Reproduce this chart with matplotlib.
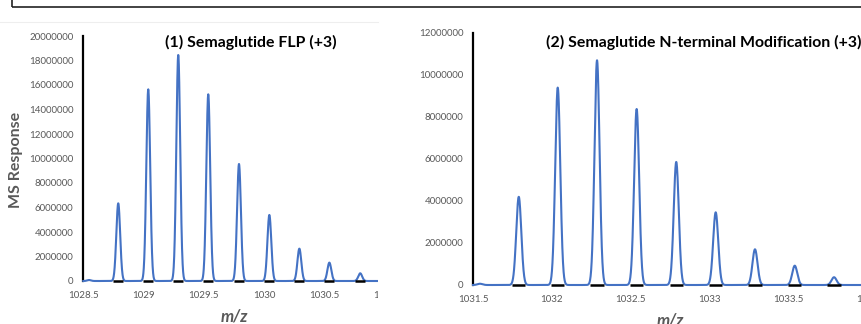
import numpy as np
import matplotlib
matplotlib.use("Agg")
from matplotlib import pyplot as plt
from matplotlib.patches import Rectangle
from matplotlib.lines import Line2D

plt.rcParams["font.family"] = ["Lato", "DejaVu Sans"]

# ---- data ----
# (1) Semaglutide FLP (+3)
flp_mz = [1028.548, 1028.790, 1029.039, 1029.288, 1029.537, 1029.792,
          1030.044, 1030.293, 1030.542, 1030.798]
flp_int = [80000, 6340000, 15650000, 18450000, 15240000, 9550000,
           5390000, 2640000, 1500000, 630000]

# (2) Semaglutide N-terminal Modification (+3)
nterm_mz = [1031.544, 1031.790, 1032.037, 1032.286, 1032.537, 1032.788,
            1033.038, 1033.287, 1033.539, 1033.788]
nterm_int = [60000, 4200000, 9400000, 10700000, 8380000, 5860000,
             3460000, 1700000, 920000, 370000]

flp_xticks = [1028.5, 1029, 1029.5, 1030, 1030.5, 1031]
flp_xlabels = ["1028.5", "1029", "1029.5", "1030", "1030.5", "1031"]
nterm_xticks = [1031.5, 1032, 1032.5, 1033, 1033.5, 1034]
nterm_xlabels = ["1031.5", "1032", "1032.5", "1033", "1033.5", "1034"]
flp_yticks = list(range(0, 20000001, 2000000))
nterm_yticks = list(range(0, 12000001, 2000000))

BLUE = "#4472C4"
GREY = "#595959"
SIGMA = 0.016      # peak width used to draw each isotope peak
HALF_BASE = 0.042  # half width of black base mark

W, H = 861, 324
fig = plt.figure(figsize=(W / 100, H / 100), dpi=100)


def px_axes(left, right, top, bottom):
    return fig.add_axes([left / W, 1 - bottom / H, (right - left) / W, (bottom - top) / H])


def draw_spectrum(ax, mz, inten, xlim, ylim, xticks, xlabels, yticks):
    x = np.linspace(xlim[0], xlim[1], 3000)
    y = np.zeros_like(x)
    for c, h in zip(mz, inten):
        y += h * np.exp(-0.5 * ((x - c) / SIGMA) ** 2)
    ax.plot(x, y, color=BLUE, lw=1.5, clip_on=False, zorder=3)
    for c, h in zip(mz[1:], inten[1:]):
        ax.plot([c - HALF_BASE, c + HALF_BASE], [0, 0], color="black", lw=1.8,
                solid_capstyle="butt", clip_on=False, zorder=4)
    ax.set_xlim(*xlim)
    ax.set_ylim(*ylim)
    ax.set_xticks(xticks)
    ax.set_xticklabels(xlabels)
    ax.set_yticks(yticks)
    ax.set_yticklabels([f"{v:d}" for v in yticks])
    ax.tick_params(axis="both", length=0, labelsize=7, labelcolor=GREY)
    ax.tick_params(axis="y", pad=7)
    ax.tick_params(axis="x", pad=7)
    for s in ("top", "right", "bottom"):
        ax.spines[s].set_visible(False)
    ax.spines["left"].set_color("black")
    ax.spines["left"].set_linewidth(1.6)
    ax.patch.set_alpha(0)


ax1 = px_axes(83.3, 83.3 + 2.5 * 120.5, 36, 281)
draw_spectrum(ax1, flp_mz, flp_int, (1028.5, 1031), (0, 20000000),
              flp_xticks, flp_xlabels, flp_yticks)

ax2 = px_axes(473, 473 + 2.5 * 157.8, 33, 285)
draw_spectrum(ax2, nterm_mz, nterm_int, (1031.5, 1034), (0, 12000000),
              nterm_xticks, nterm_xlabels, nterm_yticks)

# titles and axis labels
fig.text(251 / W, 1 - 42 / H, "(1) Semaglutide FLP (+3)", ha="center", va="center",
         fontsize=11.4, fontweight="bold", color="black")
fig.text(704 / W, 1 - 42 / H, "(2) Semaglutide N-terminal Modification (+3)",
         ha="center", va="center", fontsize=11.4, fontweight="bold", color="black")
fig.text(16 / W, 1 - 160 / H, "MS Response", rotation=90, ha="center", va="center",
         fontsize=11.5, fontweight="bold", color=GREY)
fig.text(406 / W, 1 - 161 / H, "MS Response", rotation=90, ha="center", va="center",
         fontsize=11.5, fontweight="bold", color=GREY)
fig.text(234 / W, 1 - 316 / H, "m/z", ha="center", va="center", fontsize=12,
         fontweight="bold", fontstyle="italic", color=GREY)
fig.text(670 / W, 1 - 320 / H, "m/z", ha="center", va="center", fontsize=12,
         fontweight="bold", fontstyle="italic", color=GREY)

# crop gap between the two pasted charts
fig.patches.append(Rectangle((378 / W, 0), 36 / W, 1, transform=fig.transFigure,
                             facecolor="white", edgecolor="none", zorder=10))
# frame of the box above and faint chart border
fig.patches.append(Rectangle((12 / W, 1 - 7 / H), 1.0, 0.2, transform=fig.transFigure,
                             facecolor="none", edgecolor="#222222", lw=1.2, zorder=11,
                             clip_on=False))
fig.lines.append(Line2D([0, 378 / W], [1 - 22 / H, 1 - 22 / H], transform=fig.transFigure,
                        color="#eeeeee", lw=0.8, zorder=11))

fig.savefig("out.png", dpi=100)
